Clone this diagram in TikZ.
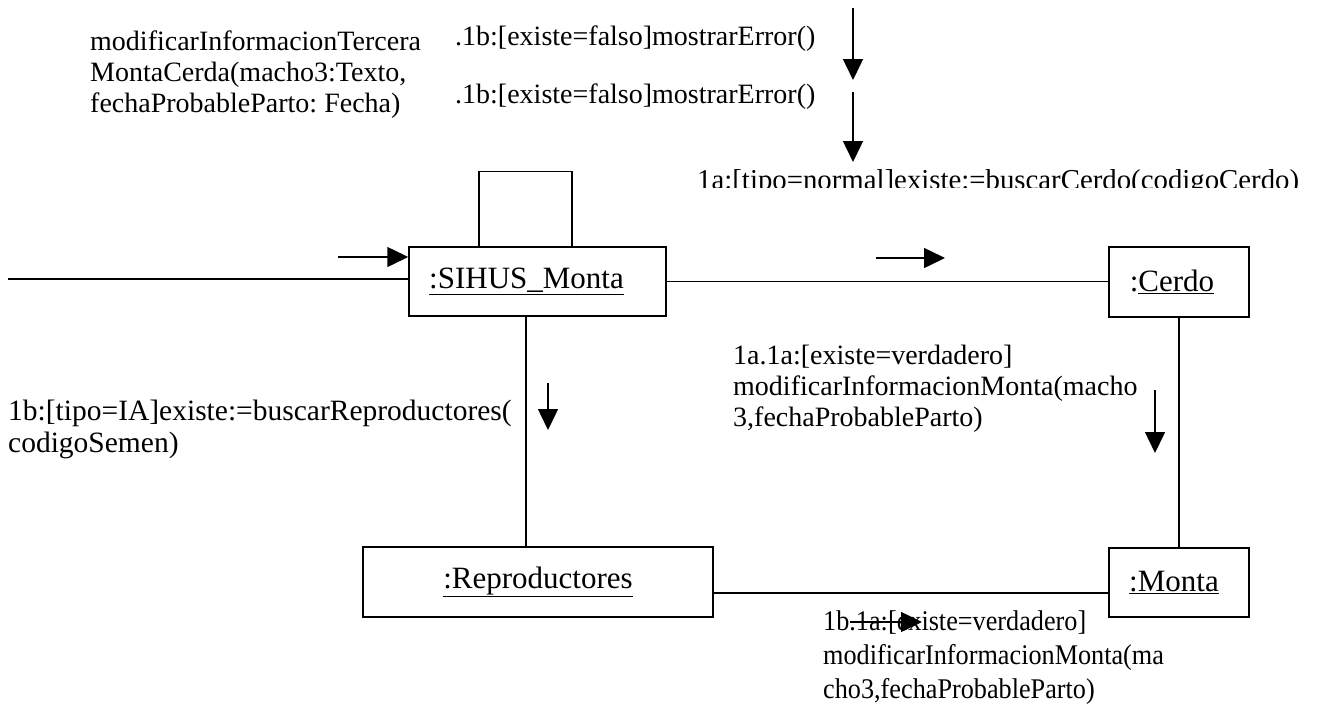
\documentclass[tikz,border=0pt]{standalone}
\usepackage{fontspec}
\setmainfont{Liberation Serif}
\usetikzlibrary{arrows.meta}
\frenchspacing
\newcommand\mlines[1]{\begin{tabular}[t]{@{}l@{}}#1\end{tabular}}
\begin{document}
\begin{tikzpicture}[x=1pt,y=-1pt,
  objbox/.style={draw, line width=1.5pt, inner sep=0pt, font=\fontsize{31}{36}\selectfont},
  lbl/.style={anchor=base west, inner sep=0pt, font=\fontsize{28}{31}\selectfont},
  msg/.style={line width=1.5pt, -{Triangle[length=21pt,width=20pt]}},
  link/.style={line width=1.5pt}]
\useasboundingbox (0,0) rectangle (1319,704);

% objects
\node[objbox, minimum width=257pt, minimum height=69pt] (sihus) at (537.5,281.5) {\underline{:SIHUS\_Monta}\hspace*{22pt}};
\node[objbox, minimum width=140pt, minimum height=70pt] (cerdo) at (1179,282) {:\underline{Cerdo}\hspace*{14pt}};
\node[objbox, minimum width=350pt, minimum height=70pt] (rep) at (538,582) {\underline{:Reproductores}};
\node[objbox, minimum width=140pt, minimum height=69pt] (monta) at (1179,582.5) {\underline{:Monta}\hspace*{10pt}};

% links
\coordinate (lstart) at (8,279);
\draw[link] (lstart) -- (lstart -| sihus.west);
\draw[link] (sihus.east) -- (sihus.east -| cerdo.west);
\draw[link] ([xshift=-11.5pt]sihus.south) -- ([xshift=-11.5pt]sihus.south |- rep.north);
\draw[link] (cerdo.south) -- (monta.north);
\draw[link] ([yshift=-11pt]rep.east) -- ([yshift=-11pt]rep.east -| monta.west);
\draw[link] ([xshift=-58.5pt]sihus.north) |- ([xshift=34.5pt,yshift=75pt]sihus.north) -- ([xshift=34.5pt]sihus.north);

% labels
\node[lbl] (tl) at (90,50) {\mlines{modificarInformacionTercera\\MontaCerda(macho3:Texto,\\fechaProbableParto: Fecha)}};
\node[lbl] (err1) at (455,45) {.1b:[existe=falso]mostrarError()};
\node[lbl] (err2) at (455,103) {.1b:[existe=falso]mostrarError()};
\begin{scope}
\clip (680,150) rectangle (1319,187.5);
\node[lbl, font=\fontsize{28.8}{31}\selectfont] (buscar) at (697,189) {1a:[tipo=normal]existe:=buscarCerdo(codigoCerdo)};
\end{scope}
\node[lbl, font=\fontsize{29.5}{32}\selectfont] (l1b) at (8,420) {\mlines{1b:[tipo=IA]existe:=buscarReproductores(\\codigoSemen)}};
\node[lbl] (l1a1a) at (733,364) {\mlines{1a.1a:[existe=verdadero]\\modificarInformacionMonta(macho\\3,fechaProbableParto)}};
\node[lbl, font=\fontsize{28.5}{34}\selectfont] (l1b1a) at (823,630) {\scalebox{0.92}[1]{\mlines{1b.1a:[existe=verdadero]\\modificarInformacionMonta(ma\\cho3,fechaProbableParto)}}};

% message arrows
\coordinate (e1s) at (853,8);   \coordinate (e1e) at (853,80);
\coordinate (e2s) at (853,92);  \coordinate (e2e) at (853,162);
\coordinate (ins) at (338,257);
\coordinate (m1s) at (876,258); \coordinate (m1e) at (945,258);
\coordinate (m2s) at (548,383); \coordinate (m2e) at (548,430);
\coordinate (m3s) at (1155,390); \coordinate (m3e) at (1155,453);
\coordinate (m4s) at (850,622); \coordinate (m4e) at (922,622);
\draw[msg] (e1s) -- (e1e);
\draw[msg] (e2s) -- (e2e);
\draw[msg] (ins) -- (ins -| sihus.west);
\draw[msg] (m1s) -- (m1e);
\draw[msg] (m2s) -- (m2e);
\draw[msg] (m3s) -- (m3e);
\draw[msg] (m4s) -- (m4e);
\end{tikzpicture}
\end{document}
